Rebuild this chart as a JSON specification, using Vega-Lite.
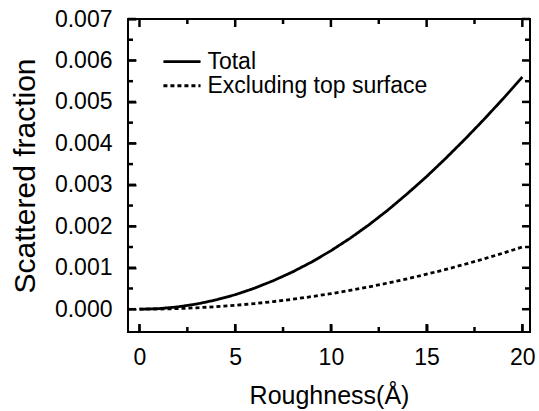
{
  "$schema": "https://vega.github.io/schema/vega-lite/v6.json",
  "width": 402,
  "height": 313,
  "autosize": {"type": "none"},
  "padding": {"left": 128, "top": 19, "right": 9, "bottom": 79},
  "background": "white",
  "config": {
    "view": {"stroke": "black", "strokeWidth": 2},
    "font": "Liberation Sans",
    "axis": {"grid": false, "domain": false, "ticks": true, "tickColor": "black", "tickWidth": 2, "tickSize": 8, "offset": -8, "labelColor": "black", "titleColor": "black", "labelFont": "Liberation Sans", "titleFont": "Liberation Sans", "titleFontWeight": "normal"}
  },
  "datasets": {
    "curves": [
      {"x": 0, "y": 0, "series": "Total"},
      {"x": 1, "y": 0.000014, "series": "Total"},
      {"x": 2, "y": 0.000056, "series": "Total"},
      {"x": 3, "y": 0.000126, "series": "Total"},
      {"x": 4, "y": 0.000224, "series": "Total"},
      {"x": 5, "y": 0.00035, "series": "Total"},
      {"x": 6, "y": 0.000505, "series": "Total"},
      {"x": 7, "y": 0.00069, "series": "Total"},
      {"x": 8, "y": 0.0009, "series": "Total"},
      {"x": 9, "y": 0.00114, "series": "Total"},
      {"x": 10, "y": 0.00141, "series": "Total"},
      {"x": 11, "y": 0.00171, "series": "Total"},
      {"x": 12, "y": 0.00204, "series": "Total"},
      {"x": 13, "y": 0.0024, "series": "Total"},
      {"x": 14, "y": 0.00279, "series": "Total"},
      {"x": 15, "y": 0.0032, "series": "Total"},
      {"x": 16, "y": 0.00364, "series": "Total"},
      {"x": 17, "y": 0.0041, "series": "Total"},
      {"x": 18, "y": 0.00458, "series": "Total"},
      {"x": 19, "y": 0.00508, "series": "Total"},
      {"x": 20, "y": 0.0056, "series": "Total"},
      {"x": 0, "y": 0, "series": "Excluding top surface"},
      {"x": 1, "y": 0.000004, "series": "Excluding top surface"},
      {"x": 2, "y": 0.000015, "series": "Excluding top surface"},
      {"x": 3, "y": 0.000034, "series": "Excluding top surface"},
      {"x": 4, "y": 0.00006, "series": "Excluding top surface"},
      {"x": 5, "y": 0.000094, "series": "Excluding top surface"},
      {"x": 6, "y": 0.000135, "series": "Excluding top surface"},
      {"x": 7, "y": 0.000184, "series": "Excluding top surface"},
      {"x": 8, "y": 0.00024, "series": "Excluding top surface"},
      {"x": 9, "y": 0.000304, "series": "Excluding top surface"},
      {"x": 10, "y": 0.000375, "series": "Excluding top surface"},
      {"x": 11, "y": 0.000454, "series": "Excluding top surface"},
      {"x": 12, "y": 0.00054, "series": "Excluding top surface"},
      {"x": 13, "y": 0.000634, "series": "Excluding top surface"},
      {"x": 14, "y": 0.000735, "series": "Excluding top surface"},
      {"x": 15, "y": 0.000844, "series": "Excluding top surface"},
      {"x": 16, "y": 0.00096, "series": "Excluding top surface"},
      {"x": 17, "y": 0.001084, "series": "Excluding top surface"},
      {"x": 18, "y": 0.001215, "series": "Excluding top surface"},
      {"x": 19, "y": 0.001354, "series": "Excluding top surface"},
      {"x": 20, "y": 0.0015, "series": "Excluding top surface"}
    ],
    "xmajor": [{"v": 0}, {"v": 5}, {"v": 10}, {"v": 15}, {"v": 20}],
    "xminor": [{"v": 2.5}, {"v": 7.5}, {"v": 12.5}, {"v": 17.5}],
    "ymajor": [{"v": 0}, {"v": 0.001}, {"v": 0.002}, {"v": 0.003}, {"v": 0.004}, {"v": 0.005}, {"v": 0.006}, {"v": 0.007}],
    "yminor": [{"v": 0.0005}, {"v": 0.0015}, {"v": 0.0025}, {"v": 0.0035}, {"v": 0.0045}, {"v": 0.0055}, {"v": 0.0065}]
  },
  "layer": [
    {
      "data": {"name": "curves"},
      "mark": {"type": "line", "color": "black", "strokeWidth": 2.8},
      "encoding": {
        "x": {"field": "x", "type": "quantitative",
          "scale": {"domain": [-0.6, 20.4], "nice": false, "zero": false},
          "axis": {"orient": "bottom", "title": "Roughness(Å)", "values": [0, 5, 10, 15, 20],
            "labelPadding": 14, "labelFontSize": 23, "titleFontSize": 25, "titlePadding": 14}},
        "y": {"field": "y", "type": "quantitative",
          "scale": {"domain": [-0.00055, 0.007], "nice": false, "zero": false},
          "axis": {"orient": "left", "title": "Scattered fraction", "format": ".3f",
            "values": [0, 0.001, 0.002, 0.003, 0.004, 0.005, 0.006, 0.007],
            "labelPadding": 16, "labelFontSize": 23, "titleFontSize": 30, "titlePadding": 14}},
        "strokeDash": {"field": "series", "type": "nominal",
          "scale": {"domain": ["Total", "Excluding top surface"], "range": [[1, 0], [4, 3]]},
          "legend": null}
      }
    },
    {
      "data": {"values": [{"series": "Total"}]},
      "mark": {"type": "rule", "color": "black", "strokeWidth": 2.8},
      "encoding": {"x": {"datum": 1.25, "type": "quantitative"}, "x2": {"datum": 3.19}, "y": {"datum": 0.00597, "type": "quantitative"}}
    },
    {
      "data": {"values": [{"series": "Excluding top surface"}]},
      "mark": {"type": "rule", "color": "black", "strokeWidth": 2.8, "strokeDash": [4, 3]},
      "encoding": {"x": {"datum": 1.25, "type": "quantitative"}, "x2": {"datum": 3.19}, "y": {"datum": 0.00539, "type": "quantitative"}}
    },
    {
      "data": {"values": [{"label": "Total"}]},
      "mark": {"type": "text", "color": "black", "fontSize": 23, "align": "left", "baseline": "middle", "font": "Liberation Sans"},
      "encoding": {"x": {"datum": 3.55, "type": "quantitative"}, "y": {"datum": 0.00597, "type": "quantitative"}, "text": {"field": "label"}}
    },
    {
      "data": {"values": [{"label": "Excluding top surface"}]},
      "mark": {"type": "text", "color": "black", "fontSize": 23, "align": "left", "baseline": "middle", "font": "Liberation Sans"},
      "encoding": {"x": {"datum": 3.55, "type": "quantitative"}, "y": {"datum": 0.00539, "type": "quantitative"}, "text": {"field": "label"}}
    },
    {
      "data": {"name": "xmajor"},
      "mark": {"type": "rule", "color": "black", "strokeWidth": 2.5},
      "encoding": {"x": {"field": "v", "type": "quantitative"}, "y": {"datum": -0.00055, "type": "quantitative"}, "y2": {"datum": -0.000357}}
    },
    {
      "data": {"name": "xminor"},
      "mark": {"type": "rule", "color": "black", "strokeWidth": 2.5},
      "encoding": {"x": {"field": "v", "type": "quantitative"}, "y": {"datum": -0.00055, "type": "quantitative"}, "y2": {"datum": -0.000429}}
    },
    {
      "data": {"name": "xmajor"},
      "mark": {"type": "rule", "color": "black", "strokeWidth": 2.5},
      "encoding": {"x": {"field": "v", "type": "quantitative"}, "y": {"datum": 0.007, "type": "quantitative"}, "y2": {"datum": 0.006807}}
    },
    {
      "data": {"name": "xminor"},
      "mark": {"type": "rule", "color": "black", "strokeWidth": 2.5},
      "encoding": {"x": {"field": "v", "type": "quantitative"}, "y": {"datum": 0.007, "type": "quantitative"}, "y2": {"datum": 0.006879}}
    },
    {
      "data": {"name": "ymajor"},
      "mark": {"type": "rule", "color": "black", "strokeWidth": 2.5},
      "encoding": {"y": {"field": "v", "type": "quantitative"}, "x": {"datum": -0.6, "type": "quantitative"}, "x2": {"datum": -0.182}}
    },
    {
      "data": {"name": "yminor"},
      "mark": {"type": "rule", "color": "black", "strokeWidth": 2.5},
      "encoding": {"y": {"field": "v", "type": "quantitative"}, "x": {"datum": -0.6, "type": "quantitative"}, "x2": {"datum": -0.339}}
    },
    {
      "data": {"name": "ymajor"},
      "mark": {"type": "rule", "color": "black", "strokeWidth": 2.5},
      "encoding": {"y": {"field": "v", "type": "quantitative"}, "x": {"datum": 20.4, "type": "quantitative"}, "x2": {"datum": 19.982}}
    },
    {
      "data": {"name": "yminor"},
      "mark": {"type": "rule", "color": "black", "strokeWidth": 2.5},
      "encoding": {"y": {"field": "v", "type": "quantitative"}, "x": {"datum": 20.4, "type": "quantitative"}, "x2": {"datum": 20.139}}
    }
  ]
}
